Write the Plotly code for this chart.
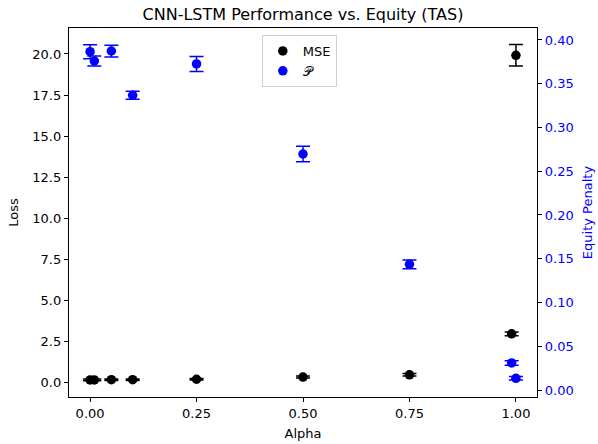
import plotly.graph_objects as go

# Alpha values swept in the experiment
alpha = [0.0, 0.01, 0.05, 0.1, 0.25, 0.5, 0.75, 0.99, 1.0]

# Loss (MSE) mean and std per alpha
mse = [0.18, 0.18, 0.19, 0.19, 0.22, 0.35, 0.49, 2.98, 19.92]
mse_err = [0.05, 0.05, 0.05, 0.05, 0.05, 0.06, 0.08, 0.12, 0.65]

# Equity penalty mean and std per alpha
penalty = [0.3866, 0.3760, 0.3874, 0.3368, 0.3726, 0.2697, 0.1436, 0.0309, 0.0134]
penalty_err = [0.0080, 0.0057, 0.0067, 0.0046, 0.0086, 0.0088, 0.0051, 0.0025, 0.0020]

x_ticks = [0.0, 0.25, 0.5, 0.75, 1.0]
loss_ticks = [0.0, 2.5, 5.0, 7.5, 10.0, 12.5, 15.0, 17.5, 20.0]
penalty_ticks = [0.0, 0.05, 0.10, 0.15, 0.20, 0.25, 0.30, 0.35, 0.40]

FONT = "DejaVu Sans"

fig = go.Figure()

fig.add_trace(go.Scatter(
    x=alpha, y=mse, mode="markers", name="MSE",
    marker=dict(color="black", size=9.5),
    error_y=dict(type="data", array=mse_err, color="black", thickness=1.5, width=7),
    yaxis="y",
))

fig.add_trace(go.Scatter(
    x=alpha, y=penalty, mode="markers", name="𝒫",
    marker=dict(color="blue", size=9.5),
    error_y=dict(type="data", array=penalty_err, color="blue", thickness=1.5, width=7),
    yaxis="y2",
))

axis_common = dict(
    showgrid=False, zeroline=False, showline=True, linecolor="black", linewidth=1.3,
    ticks="outside", ticklen=4, tickwidth=1, tickcolor="black", automargin=False,
)

fig.update_layout(
    template="none",
    width=598, height=444,
    margin=dict(l=69, r=61, t=28, b=47, pad=0),
    paper_bgcolor="white", plot_bgcolor="white",
    font=dict(family=FONT, size=13, color="black"),
    title=dict(text="CNN-LSTM Performance vs. Equity (TAS)", x=0.5, xref="paper",
               y=1 - 14 / 444, yref="container", yanchor="middle", xanchor="center",
               font=dict(size=16, family=FONT, color="black")),
    xaxis=dict(
        range=[-0.0495, 1.0495], tickvals=x_ticks, tickformat=".2f",
        mirror=True,
        title=dict(text="Alpha", standoff=9, font=dict(size=13)),
        **axis_common,
    ),
    yaxis=dict(
        range=[-0.86, 21.58], tickvals=loss_ticks, tickformat=".1f",
        title=dict(text="Loss", standoff=10, font=dict(size=13)),
        **axis_common,
    ),
    yaxis2=dict(
        range=[-0.008, 0.4137], tickvals=penalty_ticks, tickformat=".2f",
        overlaying="y", side="right",
        tickfont=dict(color="blue"),
        title=dict(text="Equity Penalty", standoff=10, font=dict(size=13, color="blue")),
        **axis_common,
    ),
    legend=dict(
        x=0.412, y=0.981, xanchor="left", yanchor="top",
        bordercolor="#d0d0d0", borderwidth=1, bgcolor="rgba(255,255,255,0.8)",
        font=dict(size=13), itemsizing="trace",
    ),
    showlegend=True,
)

fig.write_html("out.html")
